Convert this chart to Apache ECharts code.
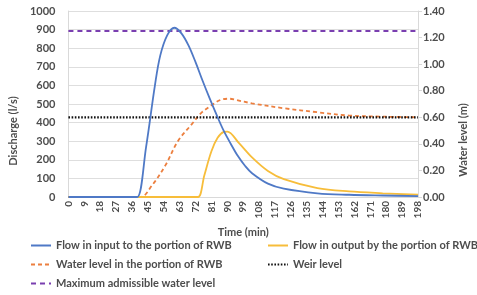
<!DOCTYPE html>
<html>
<head>
<meta charset="utf-8">
<script src="https://cdn.jsdelivr.net/npm/echarts@6/dist/echarts.min.js"></script>
<style>
  html, body { margin: 0; padding: 0; background: #fff; }
  #chart { width: 477px; height: 295px; }
</style>
</head>
<body>
<div id="chart"></div>
<script>
// time (min) / value pairs
const flowInTime = [0, 36, 39, 44, 49, 52, 56, 60, 64, 68, 72, 76, 80, 84, 88, 92, 96, 100, 104, 113, 122, 141, 159, 178, 198]
const flowInValue = [0, 0, 0, 270, 600, 760, 870, 910, 880, 815, 725, 625, 530, 440, 355, 285, 220, 168, 128, 72, 45, 20, 12, 8, 5]

const flowOutTime = [0, 70, 73.5, 77, 81, 84.5, 88, 90, 96.5, 104, 113, 122, 141, 159, 178, 198]
const flowOutValue = [0, 0, 0, 117, 246, 318, 350, 352, 291, 213, 140, 96, 48, 30, 20, 12]

const levelTime = [0, 38, 41, 47.5, 55, 62, 70, 75, 81, 86, 91, 95, 104, 122, 141, 159, 178, 198]
const levelValue = [0, 0, 0, 0.09, 0.24, 0.42, 0.55, 0.63, 0.69, 0.73, 0.74, 0.73, 0.705, 0.668, 0.638, 0.613, 0.605, 0.6]

const weirLevel = 0.6
const maxLevel = 1.25
const timeRange = [0, 198]

const names = [
  'Flow in input to the portion of RWB',
  'Flow in output by the portion of RWB',
  'Water level in the portion of RWB',
  'Weir level',
  'Maximum admissible water level'
]

const pairs = (xs, ys) => xs.map((x, i) => [x, ys[i]])

const txt = '#4d4d4d'
const font = 'Lato'
const chart = echarts.init(document.getElementById('chart'))

// one legend per entry so each sits where the reference puts it
const legendAt = (name, left, top) => ({
  left, top, itemWidth: 20, itemHeight: 10,
  itemStyle: { opacity: 0 },
  textStyle: { fontFamily: font, fontSize: 11, fontWeight: 'bold', color: txt },
  data: [name]
})

const option = {
  backgroundColor: '#fff',
  animation: false,
  textStyle: { fontFamily: font },
  grid: { left: 66, right: 54, top: 11, bottom: 98 },
  legend: [
    legendAt(names[0], 25, 235),
    legendAt(names[2], 25, 254),
    legendAt(names[4], 25, 273),
    legendAt(names[1], 262, 235),
    legendAt(names[3], 262, 254)
  ],
  xAxis: {
    type: 'value',
    min: timeRange[0],
    max: timeRange[1],
    interval: 9,
    name: 'Time (min)',
    nameLocation: 'middle',
    nameGap: 30,
    nameTextStyle: { fontFamily: font, fontSize: 11, fontWeight: 'bold', color: txt },
    axisLine: { lineStyle: { color: '#d9d9d9' } },
    axisTick: { show: false },
    splitLine: { show: false },
    axisLabel: { rotate: 90, fontSize: 10, fontWeight: 'bold', color: txt, margin: 4 }
  },
  yAxis: [
    {
      type: 'value',
      min: 0, max: 1000, interval: 100,
      name: 'Discharge (l/s)',
      nameLocation: 'middle',
      nameRotate: 90,
      nameGap: 45,
      nameTextStyle: { fontFamily: font, fontSize: 11, fontWeight: 'bold', color: txt, padding: [0, 54, 0, 0] },
      axisLine: { show: true, lineStyle: { color: '#d9d9d9' } },
      axisTick: { show: false },
      splitLine: { lineStyle: { color: '#dedede' } },
      axisLabel: { fontSize: 11, fontWeight: 'bold', color: txt, margin: 13, formatter: v => String(v) }
    },
    {
      type: 'value',
      min: 0, max: 1.4, interval: 0.2,
      name: 'Water level (m)',
      nameLocation: 'middle',
      nameRotate: 90,
      nameGap: 40,
      nameTextStyle: { fontFamily: font, fontSize: 11, fontWeight: 'bold', color: txt, padding: [0, 72, 0, 0] },
      axisLine: { show: true, lineStyle: { color: '#d9d9d9' } },
      axisTick: { show: true, length: 4, lineStyle: { color: '#d9d9d9' } },
      splitLine: { show: false },
      axisLabel: { fontSize: 11, fontWeight: 'bold', color: txt, margin: 5, formatter: v => v.toFixed(2) }
    }
  ],
  series: [
    {
      name: names[0], type: 'line', symbol: 'none', smooth: 0.35, z: 4,
      data: pairs(flowInTime, flowInValue),
      lineStyle: { color: '#4f79c6', width: 1.8 },
      itemStyle: { color: '#4f79c6' }
    },
    {
      name: names[1], type: 'line', symbol: 'none', smooth: 0.35, z: 3,
      data: pairs(flowOutTime, flowOutValue),
      lineStyle: { color: '#f7bd3a', width: 1.8 },
      itemStyle: { color: '#f7bd3a' }
    },
    {
      name: names[2], type: 'line', symbol: 'none', smooth: 0.35, yAxisIndex: 1, z: 2,
      data: pairs(levelTime, levelValue),
      lineStyle: { color: '#ec7f3f', width: 1.8, type: [4, 3] },
      itemStyle: { color: '#ec7f3f' }
    },
    {
      name: names[3], type: 'line', symbol: 'none', yAxisIndex: 1, z: 2,
      data: pairs(timeRange, [weirLevel, weirLevel]),
      lineStyle: { color: '#111', width: 2.2, type: [1.6, 1.6] },
      itemStyle: { color: '#111' }
    },
    {
      name: names[4], type: 'line', symbol: 'none', yAxisIndex: 1, z: 2,
      data: pairs(timeRange, [maxLevel, maxLevel]),
      lineStyle: { color: '#7a3fb0', width: 2, type: [5, 4] },
      itemStyle: { color: '#7a3fb0' }
    }
  ]
}

chart.setOption(option)
</script>
</body>
</html>
